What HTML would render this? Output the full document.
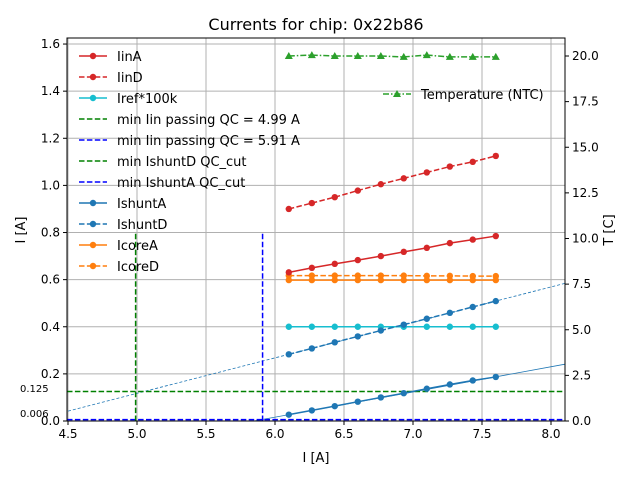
<!DOCTYPE html>
<html><head><meta charset="utf-8"><style>
body{margin:0;background:#fff;font-family:"Liberation Sans","DejaVu Sans",sans-serif}
svg text{font-family:"DejaVu Sans","Liberation Sans",sans-serif}
</style></head><body>
<svg id="c" width="640" height="480" xmlns="http://www.w3.org/2000/svg"></svg>
<script>
const xs=[6.1,6.267,6.433,6.6,6.767,6.933,7.1,7.267,7.433,7.6];
const iinA=[0.631,0.65,0.667,0.683,0.70,0.718,0.735,0.755,0.77,0.785];
const iinD=[0.90,0.925,0.95,0.978,1.005,1.03,1.055,1.08,1.10,1.125];
const iref=[0.40,0.40,0.40,0.40,0.40,0.40,0.40,0.40,0.40,0.40];
const ishA=[0.027,0.045,0.063,0.082,0.10,0.118,0.137,0.155,0.172,0.187];
const ishD=[0.283,0.308,0.334,0.359,0.384,0.409,0.434,0.459,0.484,0.509];
const coreA=[0.598,0.598,0.598,0.598,0.598,0.598,0.598,0.598,0.598,0.598];
const coreD=[0.617,0.617,0.617,0.617,0.617,0.617,0.616,0.616,0.615,0.615];
const temp=[20.0,20.05,20.0,20.0,20.0,19.95,20.05,19.95,19.95,19.95];
const xTicks=[4.5,5.0,5.5,6.0,6.5,7.0,7.5,8.0];
const yTicks=[0,0.2,0.4,0.6,0.8,1.0,1.2,1.4,1.6];
const tTicks=[0,2.5,5,7.5,10,12.5,15,17.5,20];
const L=67,R=565,T=38,B=421;
const X=v=>68+(v-4.5)*138, Y=v=>B-v*235.6, YT=v=>B-v*18.25;
const XMAX=(R-68)/138+4.5;
const s=document.getElementById('c');
function el(t,a,txt){const e=document.createElementNS('http://www.w3.org/2000/svg',t);for(const k in a)e.setAttribute(k,a[k]);if(txt!==undefined)e.textContent=txt;s.appendChild(e);return e;}
xTicks.forEach(v=>{const g=el('line',{x1:X(v),x2:X(v),y1:T,y2:B,stroke:'#b0b0b0','stroke-width':1});


const t=el('text',{x:X(v),y:B+17,'font-size':12,'text-anchor':'middle'},v.toFixed(1));


el('line',{x1:X(v),x2:X(v),y1:B,y2:B+4,stroke:'#000'});});
yTicks.forEach(v=>{const g=el('line',{x1:L,x2:R,y1:Y(v),y2:Y(v),stroke:'#b0b0b0','stroke-width':1});


const t=el('text',{x:L-7,y:Y(v)+4,'font-size':12,'text-anchor':'end'},v.toFixed(1));


el('line',{x1:L-4,x2:L,y1:Y(v),y2:Y(v),stroke:'#000'});});
tTicks.forEach(v=>{const t=el('text',{x:R+7,y:YT(v)+4,'font-size':12},v.toFixed(1));


el('line',{x1:R,x2:R+4,y1:YT(v),y2:YT(v),stroke:'#000'});});
const fD=el('line',{x1:X(4.5),y1:Y(ishD[0]-1.6*0.1506),x2:R,y2:Y(ishD[0]+(XMAX-6.1)*0.1506),stroke:'#1f77b4','stroke-width':0.8,'stroke-dasharray':'3,2'});


const fA=el('line',{x1:X(6.1-ishA[0]/0.107),y1:B,x2:R,y2:Y(ishA[0]+(XMAX-6.1)*0.107),stroke:'#1f77b4','stroke-width':0.8});


[[0.125,'green'],[0.006,'blue']].forEach(([v,c])=>{const l=el('line',{x1:L,x2:R,y1:Y(v),y2:Y(v),stroke:c,'stroke-width':1.5,'stroke-dasharray':'5.5,2.4'});

});
[[4.99,'green'],[5.91,'blue']].forEach(([v,c])=>{const l=el('line',{x1:X(v),x2:X(v),y1:B,y2:Y(0.8),stroke:c,'stroke-width':1.5,'stroke-dasharray':'5.5,2.4'});

});
let t1=el('text',{x:20,y:392,'font-size':10},'0.125');
let t2=el('text',{x:20,y:417,'font-size':10},'0.006');
function series(ys,c,dash,name,yf,mk){const p=xs.map((x,i)=>X(x)+','+(yf||Y)(ys[i])).join(' ');
const l=el('polyline',{points:p,fill:'none',stroke:c,'stroke-width':1.5,'stroke-dasharray':dash||'none'});


xs.forEach((x,i)=>{let m;if(mk==='tri'){const cx=X(x),cy=(yf||Y)(ys[i]);m=el('polygon',{points:`${cx},${cy-4} ${cx-4},${cy+3} ${cx+4},${cy+3}`,fill:c});}else m=el('circle',{cx:X(x),cy:(yf||Y)(ys[i]),r:3.2,fill:c});

});}
series(coreD,'#ff7f0e','5.5,2.4','icored');
series(coreA,'#ff7f0e','','icorea');
series(iref,'#17becf','','iref');
series(ishD,'#1f77b4','5.5,2.4','ishuntd');
series(ishA,'#1f77b4','','ishunta');
series(iinD,'#d62728','5.5,2.4','iind');
series(iinA,'#d62728','','iina');
series(temp,'#2ca02c','6,2,1.5,2','temperature',YT,'tri');
const fr=el('rect',{x:L,y:T,width:R-L,height:B-T,fill:'none',stroke:'#000','stroke-width':1});

let tt=el('text',{x:316,y:30,'font-size':16,'text-anchor':'middle'},'Currents for chip: 0x22b86');
let xl=el('text',{x:316,y:462,'font-size':13,'text-anchor':'middle'},'I [A]');
let yl=el('text',{x:25,y:230,'font-size':13,'text-anchor':'middle',transform:'rotate(-90 25 230)'},'I [A]');
let y2=el('text',{x:613,y:230,'font-size':13,'text-anchor':'middle',transform:'rotate(-90 613 230)'},'T [C]');
const leg=[['IinA','#d62728','',1],['IinD','#d62728','5.5,2.4',1],['Iref*100k','#17becf','',1],['min Iin passing QC = 4.99 A','green','5.5,2.4',0],['min Iin passing QC = 5.91 A','blue','5.5,2.4',0],['min IshuntD QC_cut','green','5.5,2.4',0],['min IshuntA QC_cut','blue','5.5,2.4',0],['IshuntA','#1f77b4','',1],['IshuntD','#1f77b4','5.5,2.4',1],['IcoreA','#ff7f0e','',1],['IcoreD','#ff7f0e','5.5,2.4',1]];
leg.forEach((e,i)=>{const y=56+i*21;
const l=el('line',{x1:79,x2:107,y1:y,y2:y,stroke:e[1],'stroke-width':1.5,'stroke-dasharray':e[2]||'none'});

if(e[3])el('circle',{cx:93,cy:y,r:3.2,fill:e[1]});
const t=el('text',{x:117,y:y+5,'font-size':13},e[0]);
});
const tl=el('line',{x1:383,x2:411,y1:94,y2:94,stroke:'#2ca02c','stroke-width':1.5,'stroke-dasharray':'6,2,1.5,2'});

el('polygon',{points:'397,90 393,97 401,97',fill:'#2ca02c'});
const tlt=el('text',{x:421,y:99,'font-size':13},'Temperature (NTC)');

</script>
</body></html>
